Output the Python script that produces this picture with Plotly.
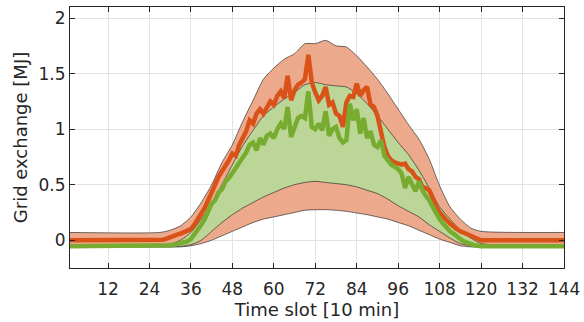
import plotly.graph_objects as go

# Band sample slots
band_slots = [1, 27, 30, 33, 36, 39, 42, 45, 48, 51, 54, 57, 60, 63, 66, 69, 72, 75, 78,
              81, 84, 87, 90, 93, 96, 99, 102, 105, 108, 111, 114, 117, 120, 144]
outer_upper = [0.07, 0.07, 0.09, 0.13, 0.21, 0.34, 0.50, 0.70, 0.86, 1.07, 1.26, 1.45, 1.55,
               1.63, 1.68, 1.77, 1.77, 1.80, 1.75, 1.74, 1.66, 1.56, 1.45, 1.32, 1.18, 1.04,
               0.91, 0.73, 0.49, 0.30, 0.19, 0.11, 0.08, 0.07]
outer_lower = [-0.06, -0.06, -0.06, -0.06, -0.05, -0.03, 0.0, 0.04, 0.08, 0.12, 0.16, 0.19,
               0.21, 0.23, 0.25, 0.27, 0.275, 0.275, 0.27, 0.26, 0.245, 0.23, 0.21, 0.19, 0.16,
               0.13, 0.09, 0.05, 0.01, -0.02, -0.05, -0.06, -0.06, -0.06]
green_upper = [-0.05, -0.05, -0.035, 0.0, 0.07, 0.19, 0.33, 0.50, 0.68, 0.85, 0.99, 1.12, 1.20,
               1.27, 1.33, 1.40, 1.42, 1.40, 1.39, 1.38, 1.32, 1.23, 1.12, 1.00, 0.88, 0.77,
               0.63, 0.47, 0.30, 0.19, 0.09, 0.02, -0.03, -0.05]
green_lower = [-0.06, -0.06, -0.06, -0.055, -0.04, 0.0, 0.08, 0.16, 0.23, 0.29, 0.34, 0.39,
               0.43, 0.47, 0.50, 0.52, 0.53, 0.52, 0.51, 0.50, 0.48, 0.45, 0.42, 0.37, 0.31,
               0.26, 0.21, 0.14, 0.08, 0.02, -0.03, -0.05, -0.06, -0.06]

# Line sample slots
line_slots = [1] + list(range(27, 121)) + [144]
orange_line = [0.0,
    0.0, 0.005, 0.015, 0.03, 0.04, 0.05, 0.06, 0.07, 0.085, 0.10,            # 27-36
    0.14, 0.19, 0.23, 0.29, 0.36, 0.42, 0.50, 0.57, 0.62, 0.66,              # 37-46
    0.72, 0.78, 0.76, 0.86, 0.92, 0.98, 1.08, 1.05, 1.14, 1.18,              # 47-56
    1.14, 1.20, 1.25, 1.22, 1.30, 1.34, 1.28, 1.48, 1.26, 1.35,              # 57-66
    1.40, 1.42, 1.45, 1.67, 1.42, 1.33, 1.26, 1.30, 1.38, 1.22,              # 67-76
    1.24, 1.14, 1.12, 1.02, 1.24, 1.30, 1.29, 1.41, 1.30, 1.35,              # 77-86
    1.38, 1.22, 1.20, 1.12, 0.96, 0.84, 0.76, 0.72, 0.70, 0.69,              # 87-96
    0.68, 0.69, 0.64, 0.62, 0.57, 0.55, 0.48, 0.47, 0.45, 0.38,              # 97-106
    0.30, 0.25, 0.21, 0.18, 0.15, 0.12, 0.10, 0.08, 0.065, 0.05,             # 107-116
    0.035, 0.02, 0.01, 0.0,                                                   # 117-120
    0.0]
green_line = [-0.055,
    -0.055, -0.055, -0.05, -0.045, -0.04, -0.035, -0.03, -0.02, -0.01, 0.01,  # 27-36
    0.05, 0.10, 0.14, 0.19, 0.27, 0.33, 0.36, 0.43, 0.46, 0.53,              # 37-46
    0.56, 0.60, 0.65, 0.70, 0.75, 0.79, 0.86, 0.88, 0.81, 0.92,              # 47-56
    0.86, 0.94, 0.96, 0.92, 1.00, 1.05, 1.00, 1.20, 0.93, 1.02,              # 57-66
    1.10, 1.12, 1.10, 1.34, 1.02, 1.00, 1.05, 0.99, 1.16, 0.94,              # 67-76
    1.00, 1.02, 0.92, 0.88, 0.90, 1.23, 1.08, 1.18, 0.96, 1.10,              # 77-86
    0.92, 0.98, 0.86, 0.84, 0.90, 0.76, 0.72, 0.68, 0.66, 0.64,              # 87-96
    0.60, 0.47, 0.57, 0.50, 0.44, 0.53, 0.45, 0.40, 0.36, 0.30,              # 97-106
    0.24, 0.19, 0.15, 0.11, 0.08, 0.06, 0.03, 0.01, -0.01, -0.025,           # 107-116
    -0.035, -0.045, -0.05, -0.055,                                            # 117-120
    -0.055]

x_ticks = [12, 24, 36, 48, 60, 72, 84, 96, 108, 120, 132, 144]
y_ticks = [0, 0.5, 1, 1.5, 2]
y_ticklabels = ["0", "0.5", "1", "1.5", "2"]

ORANGE = "#D95319"
GREEN = "#77AC30"
ORANGE_FILL = "#EDA98B"
GREEN_FILL = "#BCD698"
EDGE = "rgba(30,30,30,0.9)"
AX = "#262626"
FONT = "DejaVu Sans"

fig = go.Figure()
fig.add_trace(go.Scatter(x=band_slots, y=outer_lower, mode="lines",
                         line=dict(color=EDGE, width=0.7, shape="spline", smoothing=0.6),
                         showlegend=False))
fig.add_trace(go.Scatter(x=band_slots, y=outer_upper, mode="lines", fill="tonexty",
                         fillcolor=ORANGE_FILL,
                         line=dict(color=EDGE, width=0.7, shape="spline", smoothing=0.6),
                         showlegend=False))
fig.add_trace(go.Scatter(x=band_slots, y=green_lower, mode="lines",
                         line=dict(color=EDGE, width=0.7, shape="spline", smoothing=0.6),
                         showlegend=False))
fig.add_trace(go.Scatter(x=band_slots, y=green_upper, mode="lines", fill="tonexty",
                         fillcolor=GREEN_FILL,
                         line=dict(color=EDGE, width=0.7, shape="spline", smoothing=0.6),
                         showlegend=False))
fig.add_trace(go.Scatter(x=line_slots, y=orange_line, mode="lines",
                         line=dict(color=ORANGE, width=4.5), showlegend=False))
fig.add_trace(go.Scatter(x=line_slots, y=green_line, mode="lines",
                         line=dict(color=GREEN, width=4.5), showlegend=False))

fig.update_layout(
    width=584, height=322,
    margin=dict(l=70, r=20, t=7, b=54),
    paper_bgcolor="white", plot_bgcolor="white",
    font=dict(family=FONT, size=17, color=AX),
    showlegend=False,
)
fig.update_xaxes(
    range=[1, 144], tickvals=x_ticks, ticks="inside", ticklen=5, tickcolor=AX,
    showline=True, linecolor=AX, linewidth=1, mirror="ticks", automargin=False,
    showgrid=True, gridcolor="#e3e3e3", gridwidth=1, zeroline=False,
    tickfont=dict(family=FONT, size=17, color=AX), ticklabelstandoff=6,
    title=dict(text="Time slot [10 min]", font=dict(family=FONT, size=18, color=AX), standoff=4),
)
fig.update_yaxes(
    range=[-0.25, 2.1], tickvals=y_ticks, ticktext=y_ticklabels, ticks="inside", ticklen=5,
    tickcolor=AX, showline=True, linecolor=AX, linewidth=1, mirror="ticks", automargin=False,
    showgrid=True, gridcolor="#e3e3e3", gridwidth=1, zeroline=False,
    tickfont=dict(family=FONT, size=17, color=AX),
    title=dict(text="Grid exchange [MJ]", font=dict(family=FONT, size=18, color=AX), standoff=6),
)

fig.write_html("out.html")
